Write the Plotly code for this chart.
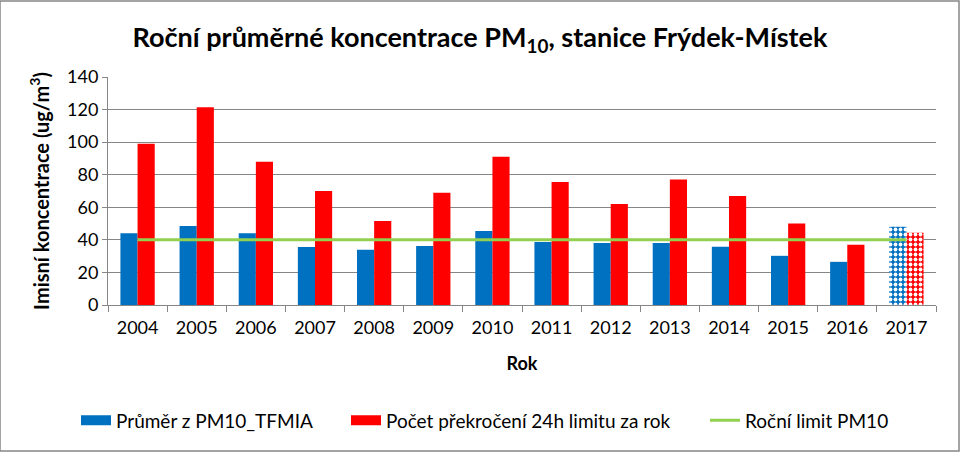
import plotly.graph_objects as go

years = ["2004", "2005", "2006", "2007", "2008", "2009", "2010", "2011", "2012", "2013", "2014", "2015", "2016", "2017"]
prumer = [44, 48.5, 44, 35.6, 34, 36.3, 45.4, 38.7, 38, 38, 35.7, 30.2, 26.5, 48]
prekroceni = [99, 121.5, 88, 70, 51.6, 69, 91, 75.5, 62, 77, 67, 50, 37, 44.4]
limit = [40] * len(years)

title_text = "Roční průměrné koncentrace PM<sub>10</sub>, stanice Frýdek-Místek"
y_title = "Imisní koncentrace (ug/m<sup>3</sup>)"
x_title = "Rok"
names = ["Průměr z PM10_TFMIA", "Počet překročení 24h limitu za rok", "Roční limit PM10"]

BLUE = "#0070C0"
RED = "#FF0000"
GREEN = "#92D050"
GRID = "#868686"
FONT = "Lato"

pattern_shapes = [""] * (len(years) - 1) + ["."]

fig = go.Figure()
fig.add_trace(go.Bar(
    x=years, y=prumer, name=names[0], showlegend=False,
    marker=dict(color=BLUE, line=dict(width=0),
                pattern=dict(shape=pattern_shapes, fillmode="replace", bgcolor=BLUE,
                             fgcolor="white", size=5, solidity=0.45)),
))
fig.add_trace(go.Bar(
    x=years, y=prekroceni, name=names[1], showlegend=False,
    marker=dict(color=RED, line=dict(width=0),
                pattern=dict(shape=pattern_shapes, fillmode="replace", bgcolor=RED,
                             fgcolor="white", size=5, solidity=0.45)),
))
fig.add_trace(go.Scatter(
    x=years, y=limit, name=names[2], mode="lines", showlegend=False,
    line=dict(color=GREEN, width=3),
))
# legend entries (wide swatches like the original), one legend each
fig.add_trace(go.Scatter(x=[None], y=[None], name=names[0], mode="lines", legend="legend",
                         line=dict(color=BLUE, width=10)))
fig.add_trace(go.Scatter(x=[None], y=[None], name=names[1], mode="lines", legend="legend2",
                         line=dict(color=RED, width=10)))
fig.add_trace(go.Scatter(x=[None], y=[None], name=names[2], mode="lines", legend="legend3",
                         line=dict(color=GREEN, width=3)))

def leg(xpx):
    return dict(orientation="h", xref="container", yref="container", x=xpx / 960, xanchor="left",
                y=0.07, yanchor="middle", font=dict(family=FONT, size=19),
                itemclick=False, bgcolor="rgba(0,0,0,0)")

fig.update_layout(
    width=960, height=452,
    margin=dict(l=108, r=24, t=77, b=147),
    paper_bgcolor="white", plot_bgcolor="white",
    font=dict(family=FONT, color="black", size=18),
    barmode="group", bargap=0.42, bargroupgap=0,
    title=dict(text=title_text, x=0.5, xanchor="center", y=0.917, yanchor="middle",
               font=dict(family=FONT, size=27, color="black", weight="bold")),
    showlegend=True,
    legend=leg(76), legend2=leg(346), legend3=leg(705),
    xaxis=dict(
        type="category", showgrid=False, showline=True, linecolor=GRID, linewidth=1,
        ticks="outside", tickson="boundaries", ticklen=6, tickcolor=GRID,
        tickfont=dict(family=FONT, size=18), ticklabelstandoff=6,
        title=dict(text=x_title, font=dict(family=FONT, size=18, weight="bold"), standoff=20),
    ),
    yaxis=dict(
        range=[0, 140], dtick=20, showgrid=True, gridcolor=GRID, gridwidth=1,
        showline=True, linecolor=GRID, linewidth=1, zeroline=False,
        ticks="outside", ticklen=5, tickcolor=GRID,
        tickfont=dict(family=FONT, size=18),
        title=dict(text=y_title, font=dict(family=FONT, size=20, weight="bold"), standoff=12),
    ),
    shapes=[dict(type="rect", xref="paper", yref="paper",
                 x0=-108/828, x1=1 + 23/828, y0=-146/228, y1=1 + 76/228,
                 line=dict(color=GRID, width=1.5), fillcolor="rgba(0,0,0,0)", layer="below")],
)

fig.write_html("out.html")
